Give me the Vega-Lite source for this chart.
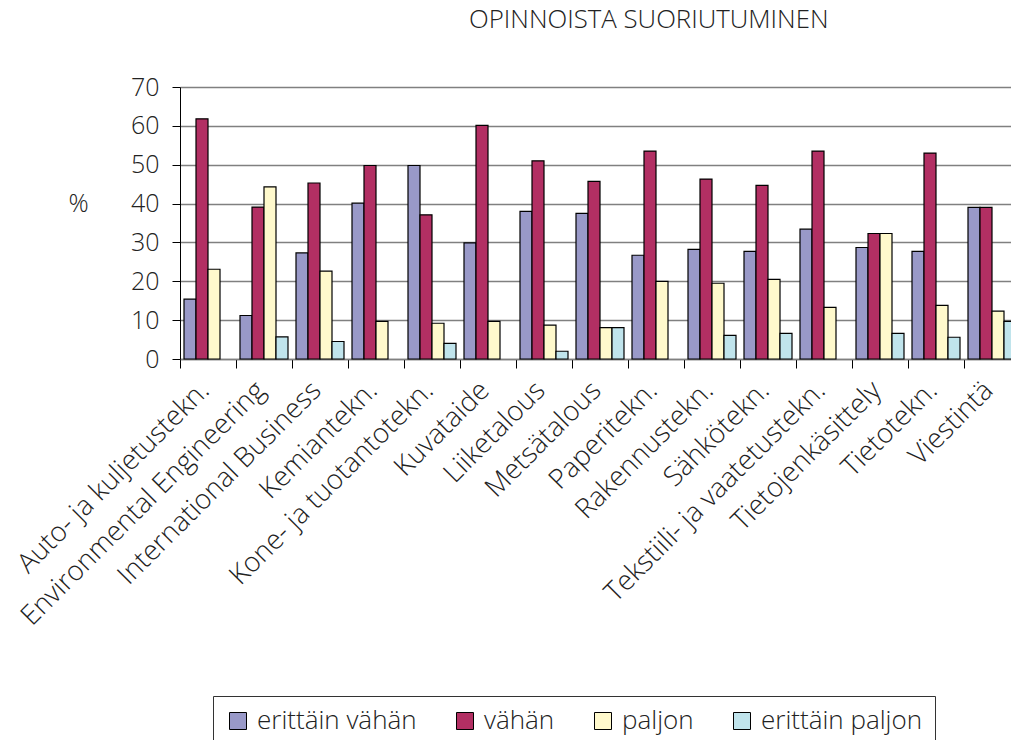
{
  "$schema": "https://vega.github.io/schema/vega-lite/v6.json",
  "width": 831,
  "height": 272,
  "autosize": {"type": "none"},
  "padding": {"left": 180, "top": 87, "right": 0, "bottom": 381},
  "background": "white",
  "title": {
    "text": "OPINNOISTA SUORIUTUMINEN",
    "anchor": "start",
    "frame": "group",
    "dx": 289,
    "offset": 41,
    "fontSize": 25.8,
    "font": "Open Sans",
    "fontWeight": 300,
    "color": "#222222"
  },
  "data": {
    "values": [
      {"k": "Auto- ja kuljetustekn.", "s": "erittäin vähän", "v": 15.4},
      {"k": "Auto- ja kuljetustekn.", "s": "vähän", "v": 61.8},
      {"k": "Auto- ja kuljetustekn.", "s": "paljon", "v": 23.1},
      {"k": "Environmental Engineering", "s": "erittäin vähän", "v": 11.2},
      {"k": "Environmental Engineering", "s": "vähän", "v": 39.1},
      {"k": "Environmental Engineering", "s": "paljon", "v": 44.3},
      {"k": "Environmental Engineering", "s": "erittäin paljon", "v": 5.7},
      {"k": "International Business", "s": "erittäin vähän", "v": 27.3},
      {"k": "International Business", "s": "vähän", "v": 45.3},
      {"k": "International Business", "s": "paljon", "v": 22.6},
      {"k": "International Business", "s": "erittäin paljon", "v": 4.5},
      {"k": "Kemiantekn.", "s": "erittäin vähän", "v": 40.1},
      {"k": "Kemiantekn.", "s": "vähän", "v": 49.8},
      {"k": "Kemiantekn.", "s": "paljon", "v": 9.7},
      {"k": "Kone- ja tuotantotekn.", "s": "erittäin vähän", "v": 49.8},
      {"k": "Kone- ja tuotantotekn.", "s": "vähän", "v": 37.1},
      {"k": "Kone- ja tuotantotekn.", "s": "paljon", "v": 9.2},
      {"k": "Kone- ja tuotantotekn.", "s": "erittäin paljon", "v": 4.0},
      {"k": "Kuvataide", "s": "erittäin vähän", "v": 29.9},
      {"k": "Kuvataide", "s": "vähän", "v": 60.1},
      {"k": "Kuvataide", "s": "paljon", "v": 9.7},
      {"k": "Liiketalous", "s": "erittäin vähän", "v": 38.0},
      {"k": "Liiketalous", "s": "vähän", "v": 51.0},
      {"k": "Liiketalous", "s": "paljon", "v": 8.7},
      {"k": "Liiketalous", "s": "erittäin paljon", "v": 2.0},
      {"k": "Metsätalous", "s": "erittäin vähän", "v": 37.5},
      {"k": "Metsätalous", "s": "vähän", "v": 45.7},
      {"k": "Metsätalous", "s": "paljon", "v": 8.1},
      {"k": "Metsätalous", "s": "erittäin paljon", "v": 8.1},
      {"k": "Paperitekn.", "s": "erittäin vähän", "v": 26.7},
      {"k": "Paperitekn.", "s": "vähän", "v": 53.5},
      {"k": "Paperitekn.", "s": "paljon", "v": 20.0},
      {"k": "Rakennustekn.", "s": "erittäin vähän", "v": 28.2},
      {"k": "Rakennustekn.", "s": "vähän", "v": 46.3},
      {"k": "Rakennustekn.", "s": "paljon", "v": 19.5},
      {"k": "Rakennustekn.", "s": "erittäin paljon", "v": 6.1},
      {"k": "Sähkötekn.", "s": "erittäin vähän", "v": 27.7},
      {"k": "Sähkötekn.", "s": "vähän", "v": 44.7},
      {"k": "Sähkötekn.", "s": "paljon", "v": 20.5},
      {"k": "Sähkötekn.", "s": "erittäin paljon", "v": 6.6},
      {"k": "Tekstiili- ja vaatetustekn.", "s": "erittäin vähän", "v": 33.4},
      {"k": "Tekstiili- ja vaatetustekn.", "s": "vähän", "v": 53.5},
      {"k": "Tekstiili- ja vaatetustekn.", "s": "paljon", "v": 13.3},
      {"k": "Tietojenkäsittely", "s": "erittäin vähän", "v": 28.7},
      {"k": "Tietojenkäsittely", "s": "vähän", "v": 32.3},
      {"k": "Tietojenkäsittely", "s": "paljon", "v": 32.3},
      {"k": "Tietojenkäsittely", "s": "erittäin paljon", "v": 6.6},
      {"k": "Tietotekn.", "s": "erittäin vähän", "v": 27.7},
      {"k": "Tietotekn.", "s": "vähän", "v": 53.0},
      {"k": "Tietotekn.", "s": "paljon", "v": 13.8},
      {"k": "Tietotekn.", "s": "erittäin paljon", "v": 5.6},
      {"k": "Viestintä", "s": "erittäin vähän", "v": 39.0},
      {"k": "Viestintä", "s": "vähän", "v": 39.0},
      {"k": "Viestintä", "s": "paljon", "v": 12.3},
      {"k": "Viestintä", "s": "erittäin paljon", "v": 9.7}
    ]
  },
  "mark": {"type": "bar", "stroke": "#000000", "strokeWidth": 1.2},
  "encoding": {
    "x": {
      "field": "k",
      "type": "nominal",
      "sort": null,
      "scale": {"range": [0, 840], "paddingInner": 0.142857, "paddingOuter": 0.0714286},
      "axis": {
        "title": null,
        "labelAngle": -45,
        "labelAlign": "right",
        "labelBaseline": "middle",
        "labelFont": "Open Sans",
        "labelFontWeight": 300,
        "labelFontSize": 27.5,
        "labelColor": "#222222",
        "labelPadding": 18,
        "labelOffset": -3,
        "labelLimit": 600,
        "labelOverlap": false,
        "tickSize": 9,
        "tickColor": "#000000",
        "tickWidth": 1,
        "bandPosition": -0.0833,
        "domainColor": "#808080",
        "domainWidth": 1.5
      }
    },
    "xOffset": {
      "field": "s",
      "type": "nominal",
      "sort": ["erittäin vähän", "vähän", "paljon", "erittäin paljon"],
      "scale": {"paddingInner": 0, "paddingOuter": 0}
    },
    "y": {
      "field": "v",
      "type": "quantitative",
      "scale": {"domain": [0, 70], "nice": false},
      "axis": {
        "title": "%",
        "titleAngle": 0,
        "titleX": -102,
        "titleY": 116,
        "titleAlign": "center",
        "titleBaseline": "middle",
        "titleFont": "Open Sans",
        "titleFontWeight": 300,
        "titleFontSize": 25,
        "titleColor": "#222222",
        "values": [0, 10, 20, 30, 40, 50, 60, 70],
        "labelFont": "Open Sans",
        "labelFontWeight": 300,
        "labelFontSize": 25,
        "labelColor": "#222222",
        "labelPadding": 13,
        "tickSize": 8,
        "tickColor": "#000000",
        "domainColor": "#000000",
        "grid": true,
        "gridColor": "#808080",
        "gridWidth": 1.3
      }
    },
    "color": {
      "field": "s",
      "type": "nominal",
      "scale": {
        "domain": ["erittäin vähän", "vähän", "paljon", "erittäin paljon"],
        "range": ["#9999C8", "#B22F63", "#FFF9CC", "#C0E4EC"]
      },
      "legend": {
        "title": null,
        "orient": "none",
        "legendX": 33,
        "legendY": 609,
        "direction": "horizontal",
        "symbolType": "square",
        "symbolSize": 289,
        "symbolStrokeColor": "#000000",
        "symbolStrokeWidth": 1,
        "symbolOpacity": 1,
        "labelFont": "Open Sans",
        "labelFontWeight": 300,
        "labelFontSize": 26,
        "labelColor": "#222222",
        "labelOffset": 6,
        "labelLimit": 400,
        "columnPadding": 35,
        "padding": 12,
        "strokeColor": "#333333",
        "fillColor": "#FFFFFF"
      }
    }
  },
  "config": {
    "view": {"stroke": null},
    "font": "Open Sans"
  }
}
